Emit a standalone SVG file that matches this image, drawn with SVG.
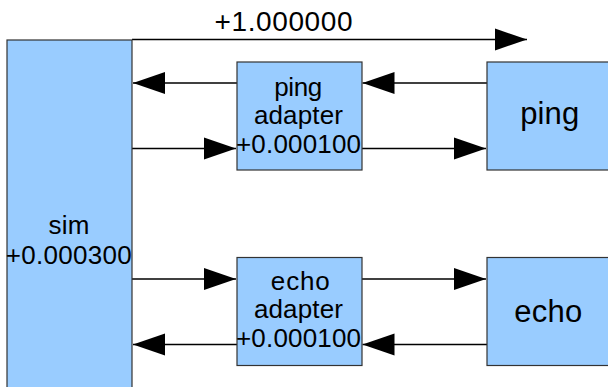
<svg xmlns="http://www.w3.org/2000/svg" width="608" height="387" viewBox="0 0 608 387">
<style>
.box{fill:#99ccff;stroke:#333333;stroke-width:1.2}
.t{font-family:"Liberation Sans",Arial,sans-serif;font-size:26px;fill:#000}
.top{font-size:28px}
.big{font-size:31px}
.c{stroke:#000;stroke-width:1.5;fill:none;marker-end:url(#ah)}
</style>
<defs>
<marker id="ah" markerUnits="userSpaceOnUse" markerWidth="33" markerHeight="23" refX="32" refY="11" orient="auto" overflow="visible">
<path d="M0,0 L32,11 L0,22 z" fill="#000"/>
</marker>
</defs>
<rect width="608" height="387" fill="#fff"/>
<g id="connectors">
<line class="c" x1="132" y1="39.5" x2="527" y2="39.5"/>
<line class="c" x1="237" y1="83" x2="133" y2="83"/>
<line class="c" x1="132" y1="148.5" x2="236" y2="148.5"/>
<line class="c" x1="487" y1="83" x2="362.5" y2="83"/>
<line class="c" x1="362" y1="148.5" x2="486" y2="148.5"/>
<line class="c" x1="132" y1="279" x2="236" y2="279"/>
<line class="c" x1="362" y1="279" x2="486" y2="279"/>
<line class="c" x1="487" y1="344.5" x2="362.5" y2="344.5"/>
<line class="c" x1="237" y1="344.5" x2="133" y2="344.5"/>
<text class="t top" x="214.5" y="30.5" textLength="138" lengthAdjust="spacing">+1.000000</text>
</g>
<g id="sim">
<rect class="box" x="7" y="40" width="125" height="400"/>
<text class="t" x="69" y="233.5" text-anchor="middle" textLength="41" lengthAdjust="spacing">sim</text>
<text class="t" x="5.8" y="263.5" textLength="126" lengthAdjust="spacing">+0.000300</text>
</g>
<g id="ping_adapter">
<rect class="box" x="237" y="62" width="125" height="108"/>
<text class="t" x="298.2" y="96" text-anchor="middle" textLength="48" lengthAdjust="spacing">ping</text>
<text class="t" x="298.4" y="124.3" text-anchor="middle" textLength="89" lengthAdjust="spacing">adapter</text>
<text class="t" x="236" y="152.7" textLength="125" lengthAdjust="spacing">+0.000100</text>
</g>
<g id="ping">
<rect class="box" x="487" y="62" width="125" height="108"/>
<text class="t big" x="549.7" y="124.3" text-anchor="middle" textLength="59" lengthAdjust="spacing">ping</text>
</g>
<g id="echo_adapter">
<rect class="box" x="237" y="257.5" width="125" height="108"/>
<text class="t" x="300.3" y="289.5" text-anchor="middle" textLength="59" lengthAdjust="spacing">echo</text>
<text class="t" x="298.4" y="318.3" text-anchor="middle" textLength="89" lengthAdjust="spacing">adapter</text>
<text class="t" x="236" y="346.8" textLength="125" lengthAdjust="spacing">+0.000100</text>
</g>
<g id="echo">
<rect class="box" x="487" y="257.5" width="125" height="108"/>
<text class="t big" x="548.3" y="322.3" text-anchor="middle" textLength="68" lengthAdjust="spacing">echo</text>
</g>
</svg>
